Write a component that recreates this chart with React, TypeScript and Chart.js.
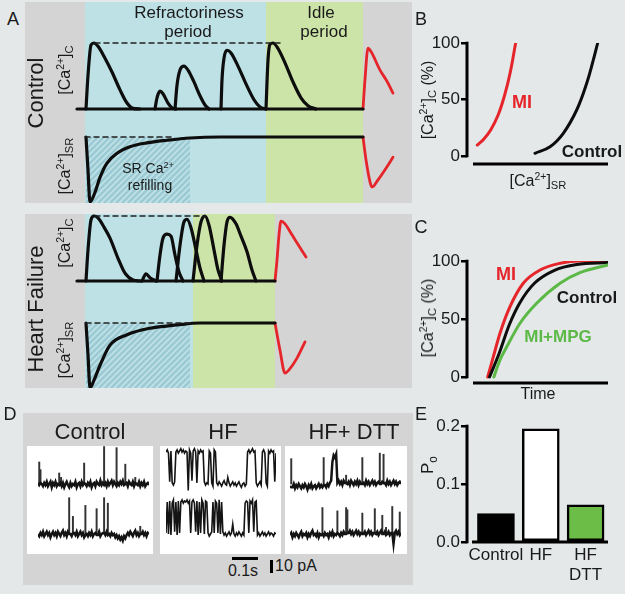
import React, { useEffect, useRef } from "react";
import { Chart, registerables } from "chart.js";

Chart.register(...registerables);

const FONT = '"Liberation Sans", Arial, Helvetica, sans-serif';
const BG = "#e4e8e9";
const PANEL_GRAY = "#d4d4d4";
const CYAN = "#bee1e6";
const GREEN = "#cde4a8";
const RED = "#e5252a";
const MPG_GREEN = "#5cb947";
const INK = "#0d0d0d";
const HATCH = "rgba(110,170,188,0.45)";

Chart.defaults.font.family = FONT;

// ---------------- Panel A (time in a.u., [Ca]c in % of peak, [Ca]SR in % of full) -------------
const ctrlPhaseEdges = [0, 60, 241, 338, 387];
const hfPhaseEdges = [0, 60, 168, 250, 387];
const phaseColors = [PANEL_GRAY, CYAN, GREEN, PANEL_GRAY];
const refillWindow = [61, 165];

const ctrlBaseX = [52, 338];
const ctrlBaseY = [0, 0];
const ctrlT1X = [61, 63, 66, 69, 73, 80, 87, 95, 102, 108, 115];
const ctrlT1Y = [0, 51, 97, 100, 95, 77, 56, 29, 9, 1, 0];
const ctrlT2X = [130, 132, 135, 138, 143, 147, 151];
const ctrlT2Y = [0, 17, 27, 23, 9, 2, 0];
const ctrlT3X = [150, 152, 155, 159, 163, 169, 175, 180, 184];
const ctrlT3Y = [0, 36, 59, 65, 59, 41, 20, 6, 0];
const ctrlT4X = [196, 197, 199, 202, 206, 213, 221, 229, 235, 241];
const ctrlT4Y = [0, 44, 77, 89, 85, 65, 38, 14, 3, 0];
const ctrlT5X = [241, 243, 245, 248, 252, 260, 268, 276, 283, 291];
const ctrlT5Y = [0, 74, 98, 100, 94, 70, 41, 17, 5, 0];
const ctrlRedCX = [338, 340, 343, 346, 355, 362, 368];
const ctrlRedCY = [0, 45, 92, 87, 59, 42, 24];
const ctrlDashCX = [70, 258];
const ctrlDashCY = [100, 100];
const ctrlSRX = [61, 63, 65, 70, 75, 82, 92, 105, 122, 142, 165, 195, 338];
const ctrlSRY = [100, 49, 0, 15, 38, 60, 75, 85, 91, 95, 98.5, 100, 100];
const ctrlRedSRX = [338, 341, 345, 347, 353, 361, 368];
const ctrlRedSRY = [100, 65, 31, 23, 34, 52, 69];
const ctrlDashSRX = [60, 150];
const ctrlDashSRY = [100, 100];

const hfBaseX = [52, 250];
const hfBaseY = [0, 0];
const hfT1X = [61, 63, 66, 69, 73, 79, 85, 93, 100, 108, 115];
const hfT1Y = [0, 48, 94, 100, 97, 83, 66, 35, 12, 1.5, 0];
const hfBumpX = [117, 121, 125, 131];
const hfBumpY = [0, 11, 5, 0];
const hfT2X = [132, 135, 138, 142, 146, 150, 154, 158];
const hfT2Y = [0, 40, 66, 72, 69, 40, 14, 0];
const hfT3X = [151, 155, 159, 162, 166, 171, 175, 179];
const hfT3Y = [0, 55, 91, 95, 82, 48, 20, 0];
const hfT4X = [168, 172, 176, 180, 184, 189, 193, 197];
const hfT4Y = [0, 55, 91, 100, 86, 48, 17, 0];
const hfT5X = [196, 199, 202, 205, 211, 216, 222, 227, 231];
const hfT5Y = [0, 55, 91, 98, 88, 69, 45, 17, 0];
const hfRedCX = [250, 252, 254, 256, 260, 267, 274, 281];
const hfRedCY = [0, 32, 71, 92, 88, 71, 54, 37];
const hfDashCX = [70, 180];
const hfDashCY = [100, 100];
const hfSRX = [61, 63, 65, 69, 75, 85, 102, 125, 152, 175, 250];
const hfSRY = [100, 51, 0, 12, 35, 66, 82, 92, 97, 100, 100];
const hfRedSRX = [250, 255, 260, 264, 272, 280];
const hfRedSRY = [100, 58, 23, 28, 46, 71];
const hfDashSRX = [61, 165];
const hfDashSRY = [100, 100];

// ---------------- Panel B ----------------
const bYTicks = [0, 50, 100];
const bMiX = [7.3, 12, 17, 22, 26.5, 30.5, 34.5];
const bMiY = [9.7, 15, 23.5, 36, 53, 73, 100];
const bCtrlX = [48.2, 58.9, 68.3, 77.8, 84.9, 89.6, 92.7];
const bCtrlY = [2.4, 8.2, 20.1, 40.7, 64.3, 85, 100];

// ---------------- Panel C ----------------
const cYTicks = [0, 50, 100];
const cMiX = [14.7, 18.7, 23.4, 30.5, 39.9, 51.8, 66, 80.1, 99.8];
const cMiY = [0, 17.5, 37.7, 60.6, 80.8, 92.2, 98, 100, 100];
const cCtrlX = [16, 22.7, 30, 37.5, 48, 62, 78, 99.8];
const cCtrlY = [0, 20, 45, 64, 81, 92, 97, 98.7];
const cMpgX = [19.1, 23.4, 28.2, 37.6, 49.4, 66, 80.1, 99.8];
const cMpgY = [0, 14.7, 26.1, 46.3, 63.5, 80.8, 89.9, 96.6];

// ---------------- Panel D (single channel current, pA; sample index) ----------------
const ctrlTrace1 = [1, -1, 1, 0, -2, 1, -1, 2, -2, 0, 2, -3, 1, -1, 2, -2, 0, -1, 1, -2, 1, -3, 0, 2, -1, -3, 1, -2, 0, -1, 2, -3, 0, 1, -2, 2, -1, 1, 0, -2, 1, -1, 2, -3, 0, 1, -2, 2, 0, -1, 3, -1, 1, -1, 1, -2, 2, -1, 1, 3, -1, 2, 0, -2, 1, -1, 2, 0, 3, -1, 0, 1, -2, 2, 0, -1, 2, -2, 1, 0, -1, 2, -2, 1, -1, 2, -2, 0, 1, -1];
const ctrlSpikes1At = [1, 2, 17, 18.5, 37, 53, 63, 70, 78];
const ctrlSpikes1Amp = [20, 13, 10, 6, 19, 34, 33, 18, 6];
const ctrlTrace2 = [0, -2, 1, -1, 2, -2, 0, 2, -1, 1, -3, 0, 2, -1, 1, -2, 2, 0, -2, 1, 3, -1, 1, -2, 2, 0, 0, -2, 1, 1, -1, 2, -2, 0, 2, -1, 1, -3, -1, 0, -2, 1, -1, 2, -2, 0, 1, -1, -1, 2, -2, 0, 1, 1, -1, 2, -1, 0, -2, 1, -1, 0, -3, -1, -4, -2, -5, -3, -6, -2, -4, -1, 1, -1, 2, 0, -2, 1, 3, -1, 1, -2, 0, 0, 2, -1, 1, -2, 1, 0];
const ctrlSpikes2At = [25, 28, 38, 47, 53, 56, 82];
const ctrlSpikes2Amp = [33, 16, 26, 23, 33, 28, 7];
const hfTrace1 = [29, 31, 28, 2, 30, 1, -1, 2, 29, 31, 28, 30, 32, 29, 31, 28, 30, 29, -6, 31, 28, 3, 30, 32, 29, 1, 30, 28, 31, 29, 30, 2, -1, 1, 0, 30, 28, 1, -2, 31, 29, 1, -1, 2, 0, -2, 1, 3, 0, -1, 6, 1, -2, 0, 2, -1, 1, -2, 0, 2, -1, -3, 0, 1, -2, 0, 29, 31, 28, 30, 32, 29, 30, 1, -2, 0, 2, -1, 29, 31, 28, 1, -2, 30, 28, 31, 29, 30, 2, 28];
const hfTrace2 = [1, 29, 0, 30, -1, 28, 31, 2, 29, -1, 30, 1, 29, 31, 28, 30, 29, 31, 28, 30, 1, 29, 31, 28, 2, 30, -1, 29, 1, 31, 28, 0, 30, 29, 1, -2, 0, 2, 29, 1, 30, 28, 1, 31, 0, 29, 2, -1, 1, -2, 0, 2, -1, 1, 9, 0, -2, 1, -1, 2, 0, -2, 1, -1, 28, 30, 29, 1, 30, 28, 31, 2, 29, 30, -1, 1, -2, 0, 2, -1, 1, -2, 0, 2, -1, 1, 0, -2, 1, 0];
const dttTrace1 = [-2, -3, -3, 0, -4, -1, -3, 0, -2, -4, -1, -3, 0, -2, -5, -1, -3, 0, -4, -2, -1, -4, -2, 0, -3, -1, -3, -1, -1, -3, 0, -2, 1, 3, 20, 26, 24, 27, 1, 3, 0, 2, -1, 3, 1, 1, 0, 2, -1, 3, 1, -1, 2, 0, 3, -1, 2, 0, 0, 1, -1, 3, 0, 2, -1, 1, 3, 0, 2, -1, 1, 2, 0, 0, 2, 1, 1, -1, 3, 0, 2, -1, 1, 3, 0, 2, -1, 1, 2, 0];
const dttSpikes1At = [1, 27, 45, 58, 72, 75];
const dttSpikes1Amp = [23, 24, 8, 24, 28, 27];
const dttTrace2 = [-1, 1, -3, 0, -2, 1, -1, -3, 0, 2, -2, 0, -1, 1, -3, 0, -2, 1, 3, -1, 0, -2, 1, -3, 0, -1, 0, -2, 1, -1, 0, -3, 1, -1, 2, -2, 0, -1, 1, 0, -2, 1, -1, 2, 0, 0, 1, 1, 3, 0, 2, -1, 1, 3, 0, 2, -1, 1, 0, 0, 2, -1, 1, 3, 0, 2, -1, 1, 1, 0, 2, -1, 1, 3, 0, 0, 2, -1, 0, 2, -1, 1, 1, -9, 1, 3, 0, 2, -1, 1];
const dttSpikes2At = [26, 38, 45, 46, 58, 68, 74, 77, 82, 88];
const dttSpikes2Amp = [24, 21, 24, 22, 19, 23, 17, 6, 25, 20];

// ---------------- Panel E ----------------
const eGroups = [["Control"], ["HF"], ["HF", "DTT"]];
const ePo = [0.049, 0.195, 0.064];
const eColors = ["#000000", "#ffffff", "#6cbd47"];
const eYTicks = [0, 0.1, 0.2];

// ---------------- helpers ----------------
const pts = (xs: number[], ys: number[]) => xs.map((x, i) => ({ x, y: ys[i] }));

const trace = (xs: number[], ys: number[], yAxisID: string, color = INK, width = 3.2, dash: number[] = [], smooth = "monotone") => ({
  data: pts(xs, ys),
  yAxisID,
  borderColor: color,
  borderWidth: width,
  borderDash: dash,
  pointRadius: 0,
  cubicInterpolationMode: smooth,
  tension: 0.4,
  fill: false,
  borderCapStyle: "round",
  borderJoinStyle: "round",
});

const phasePlugin = {
  id: "phases",
  beforeDraw(chart: any, _a: any, o: any) {
    const { ctx, width, height } = chart;
    const xs = chart.scales.x;
    ctx.save();
    ctx.fillStyle = PANEL_GRAY;
    ctx.fillRect(0, 0, width, height);
    for (let i = 0; i < o.edges.length - 1; i++) {
      const a = xs.getPixelForValue(o.edges[i]);
      const b = xs.getPixelForValue(o.edges[i + 1]);
      ctx.fillStyle = o.colors[i];
      ctx.fillRect(a, 0, b - a, height);
    }
    const h0 = xs.getPixelForValue(o.hatch[0]);
    const h1 = xs.getPixelForValue(o.hatch[1]);
    const top = chart.scales.ySR.getPixelForValue(o.hatchTop);
    ctx.beginPath();
    ctx.rect(h0, top, h1 - h0, height - top);
    ctx.clip();
    ctx.strokeStyle = HATCH;
    ctx.lineWidth = 2.4;
    const span = height - top;
    for (let k = h0 - span; k < h1 + 6; k += 6) {
      ctx.beginPath();
      ctx.moveTo(k, height);
      ctx.lineTo(k + span, top);
      ctx.stroke();
    }
    ctx.restore();
  },
};

const axisPlugin = {
  id: "axisLines",
  afterDraw(chart: any, _a: any, o: any) {
    const { ctx, chartArea: ca } = chart;
    const y = chart.scales.y;
    ctx.save();
    ctx.strokeStyle = "#000";
    ctx.lineWidth = 3;
    ctx.beginPath();
    ctx.moveTo(ca.left, y.getPixelForValue(o.yFrom) + 1.3);
    ctx.lineTo(ca.left, y.getPixelForValue(o.yTo) - 1.3);
    ctx.stroke();
    ctx.beginPath();
    ctx.moveTo(ca.left + o.xGap, ca.bottom);
    ctx.lineTo(ca.right, ca.bottom);
    ctx.stroke();
    ctx.restore();
  },
};

const yAxisStyle = (ticks: number[], min: number, max: number, fmt?: (v: number) => string) => ({
  type: "linear",
  min,
  max,
  afterFit: (s: any) => {
    s.width = 47;
  },
  afterBuildTicks: (s: any) => {
    s.ticks = ticks.map((v) => ({ value: v }));
  },
  border: { display: false },
  grid: { display: true, drawOnChartArea: false, drawTicks: true, tickLength: 6, lineWidth: 2.5, color: "#000" },
  ticks: {
    padding: 1,
    color: "#1a1a1a",
    font: { size: 17, family: FONT },
    callback: (v: any) => (fmt ? fmt(Number(v)) : String(v)),
  },
});

function ChartCanvas({ make, left, top, width, height, bg }: any) {
  const ref = useRef<HTMLCanvasElement>(null);
  useEffect(() => {
    const chart = new Chart(ref.current as HTMLCanvasElement, make());
    return () => chart.destroy();
  }, []);
  return (
    <canvas
      ref={ref}
      width={width}
      height={height}
      style={{ position: "absolute", left, top, width, height, background: bg || "transparent" }}
    />
  );
}

function T({ x, y, size = 17, rot, bold, color, children }: any) {
  return (
    <div
      style={{
        position: "absolute",
        left: x,
        top: y,
        transform: `translate(-50%,-50%)${rot ? ` rotate(${rot}deg)` : ""}`,
        fontSize: size,
        lineHeight: 1,
        whiteSpace: "nowrap",
        fontWeight: bold ? 700 : 400,
        color: color || "#1a1a1a",
        fontFamily: FONT,
      }}
    >
      {children}
    </div>
  );
}

const Sup = ({ children }: any) => (
  <span style={{ fontSize: "0.65em", position: "relative", top: "-0.6em" }}>{children}</span>
);
const Sub = ({ children }: any) => (
  <span style={{ fontSize: "0.7em", position: "relative", top: "0.3em" }}>{children}</span>
);

const CaC = () => (
  <>
    [Ca<Sup>2+</Sup>]<Sub>C</Sub>
  </>
);
const CaSR = () => (
  <>
    [Ca<Sup>2+</Sup>]<Sub>SR</Sub>
  </>
);

function panelAConfig(sets: any[], edges: number[], yC: number[], ySR: number[]) {
  return {
    type: "line",
    data: { datasets: sets },
    plugins: [phasePlugin],
    options: {
      animation: false,
      responsive: false,
      layout: { padding: 0 },
      plugins: {
        legend: { display: false },
        tooltip: { enabled: false },
        phases: { edges, colors: phaseColors, hatch: refillWindow, hatchTop: 100 },
      },
      scales: {
        x: { type: "linear", min: 0, max: 387, display: false },
        yC: { type: "linear", axis: "y", min: yC[0], max: yC[1], display: false },
        ySR: { type: "linear", axis: "y", min: ySR[0], max: ySR[1], display: false },
      },
    },
  };
}

const makeCtrlA = () =>
  panelAConfig(
    [
      trace(ctrlDashCX, ctrlDashCY, "yC", "#222", 1.5, [5, 4]),
      trace(ctrlDashSRX, ctrlDashSRY, "ySR", "#222", 1.5, [5, 4]),
      trace(ctrlBaseX, ctrlBaseY, "yC"),
      trace(ctrlT1X, ctrlT1Y, "yC"),
      trace(ctrlT2X, ctrlT2Y, "yC"),
      trace(ctrlT3X, ctrlT3Y, "yC"),
      trace(ctrlT4X, ctrlT4Y, "yC"),
      trace(ctrlT5X, ctrlT5Y, "yC"),
      trace(ctrlRedCX, ctrlRedCY, "yC", RED, 2.8),
      trace(ctrlSRX, ctrlSRY, "ySR"),
      trace(ctrlRedSRX, ctrlRedSRY, "ySR", RED, 2.8),
    ],
    ctrlPhaseEdges,
    [-142.4, 162.1],
    [-1.5, 307.7]
  );

const makeHfA = () =>
  panelAConfig(
    [
      trace(hfDashCX, hfDashCY, "yC", "#222", 1.5, [5, 4]),
      trace(hfDashSRX, hfDashSRY, "ySR", "#222", 1.5, [5, 4]),
      trace(hfBaseX, hfBaseY, "yC"),
      trace(hfT1X, hfT1Y, "yC"),
      trace(hfBumpX, hfBumpY, "yC"),
      trace(hfT2X, hfT2Y, "yC"),
      trace(hfT3X, hfT3Y, "yC"),
      trace(hfT4X, hfT4Y, "yC"),
      trace(hfT5X, hfT5Y, "yC"),
      trace(hfRedCX, hfRedCY, "yC", RED, 2.8),
      trace(hfSRX, hfSRY, "ySR"),
      trace(hfRedSRX, hfRedSRY, "ySR", RED, 2.8),
    ],
    hfPhaseEdges,
    [-164.6, 103.1],
    [0, 267.7]
  );

function curveConfig(sets: any[], ticks: number[], yMin: number, pad: any) {
  return {
    type: "line",
    data: { datasets: sets },
    plugins: [axisPlugin],
    options: {
      animation: false,
      responsive: false,
      layout: { padding: pad },
      plugins: {
        legend: { display: false },
        tooltip: { enabled: false },
        axisLines: { yFrom: 0, yTo: 100, xGap: 6 },
      },
      scales: {
        x: { type: "linear", min: 0, max: 100, display: false },
        y: yAxisStyle(ticks, yMin, 100),
      },
    },
  };
}

const makeB = () =>
  curveConfig(
    [trace(bMiX, bMiY, "y", RED, 3, [], "default"), trace(bCtrlX, bCtrlY, "y", INK, 3, [], "default")],
    bYTicks,
    -7.1,
    { top: 23, right: 17, bottom: 16, left: 0 }
  );

const makeC = () =>
  curveConfig(
    [trace(cMpgX, cMpgY, "y", MPG_GREEN, 3), trace(cCtrlX, cCtrlY, "y", INK, 3), trace(cMiX, cMiY, "y", RED, 3)],
    cYTicks,
    -5.2,
    { top: 21, right: 17, bottom: 12, left: 0 }
  );

const makeE = () => ({
  type: "bar",
  data: {
    datasets: [
      {
        data: ePo.map((v, i) => ({ x: i + 1, y: v })),
        backgroundColor: eColors,
        borderColor: "#000",
        borderWidth: 2.5,
        borderSkipped: false,
        barThickness: 37,
      },
    ],
  },
  plugins: [axisPlugin],
  options: {
    animation: false,
    responsive: false,
    layout: { padding: { top: 16, right: 17, bottom: 12, left: 0 } },
    plugins: {
      legend: { display: false },
      tooltip: { enabled: false },
      axisLines: { yFrom: 0, yTo: 0.2, xGap: 5 },
    },
    scales: {
      x: {
        type: "linear",
        min: 0.354,
        max: 3.5,
        offset: false,
        afterFit: (s: any) => {
          s.height = 40;
        },
        afterBuildTicks: (s: any) => {
          s.ticks = eGroups.map((_, i) => ({ value: i + 1 }));
        },
        border: { display: false },
        grid: { display: false, drawTicks: false, offset: false },
        ticks: {
          padding: 3,
          autoSkip: false,
          maxRotation: 0,
          color: "#1a1a1a",
          font: { size: 17, family: FONT, lineHeight: 1.18 },
          callback: (v: any) => eGroups[Math.round(Number(v)) - 1] || "",
        },
      },
      y: yAxisStyle(eYTicks, 0, 0.2, (v) => v.toFixed(1)),
    },
  },
});

const noiseLine = (values: number[], yAxisID: string, width: number) => ({
  type: "line",
  data: values.map((v, i) => ({ x: i, y: v })),
  yAxisID,
  borderColor: "#141414",
  borderWidth: width,
  pointRadius: 0,
  tension: 0,
  order: 1,
});

const spikeBars = (at: number[], amp: number[], yAxisID: string) => ({
  type: "bar",
  data: at.map((x, i) => ({ x, y: [0, amp[i]] })),
  yAxisID,
  backgroundColor: "#333333",
  borderWidth: 0,
  barThickness: 1.3,
  grouped: false,
  order: 2,
});

function channelConfig(row1: number[], row2: number[], sp1: any, sp2: any, padL: number, padR: number, width = 2.5) {
  return () => {
    const sets: any[] = [noiseLine(row1, "yTop", width), noiseLine(row2, "yBottom", width)];
    if (sp1) sets.push(spikeBars(sp1[0], sp1[1], "yTop"));
    if (sp2) sets.push(spikeBars(sp2[0], sp2[1], "yBottom"));
    return {
      type: "line",
      data: { datasets: sets },
      options: {
        animation: false,
        responsive: false,
        layout: { padding: { left: padL, right: padR, top: 0, bottom: 0 } },
        plugins: { legend: { display: false }, tooltip: { enabled: false } },
        scales: {
          x: { type: "linear", min: 0, max: row1.length - 1, display: false, offset: false },
          yTop: { type: "linear", axis: "y", min: -63.6, max: 34.5, display: false },
          yBottom: { type: "linear", axis: "y", min: -18.2, max: 80, display: false },
        },
      },
    };
  };
}

export default function App() {
  return (
    <div
      style={{
        position: "absolute",
        left: 0,
        top: 0,
        width: 625,
        height: 594,
        background: BG,
        overflow: "hidden",
        fontFamily: FONT,
      }}
    >
      {/* Panel A */}
      <ChartCanvas make={makeCtrlA} left={25} top={2} width={387} height={201} />
      <ChartCanvas make={makeHfA} left={25} top={214} width={387} height={174} />
      <T x={13} y={19} size={18}>A</T>
      <T x={189} y={12}>Refractoriness</T>
      <T x={188} y={31}>period</T>
      <T x={321} y={12}>Idle</T>
      <T x={324} y={31}>period</T>
      <T x={36} y={93} size={22} rot={-90}>Control</T>
      <T x={65} y={70} size={16} rot={-90}><CaC /></T>
      <T x={65} y={166} size={16} rot={-90}><CaSR /></T>
      <T x={148} y={168} size={14}>SR Ca<Sup>2+</Sup></T>
      <T x={150} y={185} size={14}>refilling</T>
      <T x={36} y={309} size={22} rot={-90}>Heart Failure</T>
      <T x={65} y={243} size={16} rot={-90}><CaC /></T>
      <T x={65} y={350} size={16} rot={-90}><CaSR /></T>

      {/* Panel B */}
      <ChartCanvas make={makeB} left={420} top={20} width={205} height={160} />
      <T x={421} y={19} size={18}>B</T>
      <T x={428} y={100} size={16} rot={-90}><CaC /> (%)</T>
      <T x={538} y={181} size={16}><CaSR /></T>
      <T x={522} y={102} size={18} bold color={RED}>MI</T>
      <T x={592} y={151} size={17} bold>Control</T>

      {/* Panel C */}
      <ChartCanvas make={makeC} left={420} top={240} width={205} height={155} />
      <T x={421} y={227} size={18}>C</T>
      <T x={428} y={318} size={16} rot={-90}><CaC /> (%)</T>
      <T x={538} y={394} size={16}>Time</T>
      <T x={506} y={274} size={18} bold color={RED}>MI</T>
      <T x={587} y={297} size={17} bold>Control</T>
      <T x={558} y={336} size={17} bold color={MPG_GREEN}>MI+MPG</T>

      {/* Panel D */}
      <div style={{ position: "absolute", left: 23, top: 413, width: 390, height: 172, background: PANEL_GRAY }} />
      <ChartCanvas
        make={channelConfig(ctrlTrace1, ctrlTrace2, [ctrlSpikes1At, ctrlSpikes1Amp], [ctrlSpikes2At, ctrlSpikes2Amp], 11, 4)}
        left={27} top={446} width={126} height={108} bg="#ffffff"
      />
      <ChartCanvas make={channelConfig(hfTrace1, hfTrace2, null, null, 6, 5, 1.6)} left={160} top={446} width={121} height={108} bg="#ffffff" />
      <ChartCanvas
        make={channelConfig(dttTrace1, dttTrace2, [dttSpikes1At, dttSpikes1Amp], [dttSpikes2At, dttSpikes2Amp], 5, 6)}
        left={285} top={446} width={122} height={108} bg="#ffffff"
      />
      <T x={10} y={414} size={18}>D</T>
      <T x={90} y={432} size={22}>Control</T>
      <T x={223} y={432} size={22}>HF</T>
      <T x={354} y={432} size={22}>HF+ DTT</T>
      <div style={{ position: "absolute", left: 232, top: 557, width: 26, height: 2.5, background: "#000" }} />
      <div style={{ position: "absolute", left: 270, top: 560, width: 2.5, height: 13, background: "#000" }} />
      <T x={243} y={571} size={16}>0.1s</T>
      <T x={296} y={566} size={16}>10 pA</T>

      {/* Panel E */}
      <ChartCanvas make={makeE} left={420} top={410} width={205} height={184} />
      <T x={421} y={414} size={18}>E</T>
      <T x={427} y={465} size={17} rot={-90}>P<Sub>o</Sub></T>
    </div>
  );
}
